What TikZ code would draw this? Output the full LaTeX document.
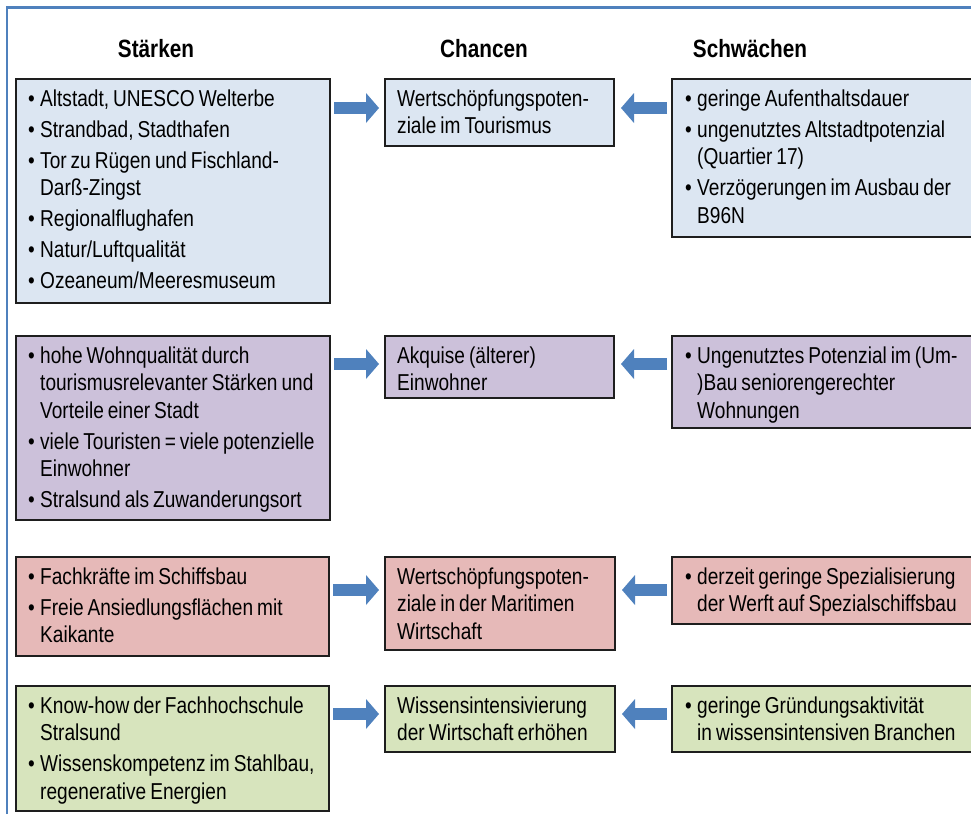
\documentclass[tikz,border=0pt]{standalone}
\usepackage{fontspec}
\setmainfont{Liberation Sans}[FakeStretch=0.83,WordSpace=0.75]
\usetikzlibrary{calc,arrows.meta}
\definecolor{frameblue}{RGB}{79,129,189}
\definecolor{arrowblue}{RGB}{79,129,189}
\definecolor{fillA}{RGB}{220,230,242}
\definecolor{fillB}{RGB}{204,193,218}
\definecolor{fillC}{RGB}{230,185,184}
\definecolor{fillD}{RGB}{215,228,189}
\definecolor{boxline}{RGB}{30,30,30}
\newcommand\bul[1]{\hangindent=12pt\hangafter=1\noindent\makebox[12pt][l]{•}#1\par\vspace{3.5pt}}
\newcommand\cell[2]{\parbox[t]{#1}{\hyphenpenalty=10000\exhyphenpenalty=10000\fontsize{23}{27.5}\selectfont #2}}
\begin{document}
\begin{tikzpicture}[x=1pt,y=-1pt,
  box/.style={draw=boxline, line width=1.4pt, anchor=north west, inner sep=0pt, outer sep=0pt},
  txt/.style={anchor=base west, inner sep=0pt},
  head/.style={font=\fontsize{25}{30}\selectfont\bfseries, anchor=base, inner sep=0pt},
  blockarrow/.style={draw=arrowblue, line width=12pt, -{Triangle[width=30pt,length=13pt,line width=0pt]}},
 ]
\useasboundingbox (0,0) rectangle (971,814);
\draw[frameblue, line width=2.5pt] (7,814) -- (7,7.5) -- (971,7.5);

% headers
\node[head] (hS) at (156,57) {Stärken};
\node[head] (hC) at (484,57) {Chancen};
\node[head] (hW) at (750,57) {Schwächen};

% row 1
\node[box, fill=fillA, minimum width=314pt, minimum height=224pt] (L1) at (16,79) {};
\node[box, fill=fillA, minimum width=229pt, minimum height=67pt] (M1) at (385,79) {};
\node[box, fill=fillA, minimum width=300pt, minimum height=158pt] (R1) at (672,79) {};
\node[txt] (L1t) at ($(L1.north west)+(12,27)$) {\cell{300pt}{%
\bul{Altstadt, UNESCO Welterbe}
\bul{Strandbad, Stadthafen}
\bul{Tor zu Rügen und Fischland-\\Darß-Zingst}
\bul{Regionalflughafen}
\bul{Natur/Luftqualität}
\bul{Ozeaneum/Meeresmuseum}}};
\node[txt] (M1t) at ($(M1.north west)+(12,27)$) {\cell{215pt}{Wertschöpfungspoten-\\ziale im Tourismus}};
\node[txt] (R1t) at ($(R1.north west)+(13,27)$) {\cell{290pt}{%
\bul{geringe Aufenthaltsdauer}
\bul{ungenutztes Altstadtpotenzial\\(Quartier 17)}
\bul{Verzögerungen im Ausbau der\\B96N}}};
\draw[blockarrow] ($(L1.north east)+(4,29)$) -- ($(M1.north west)+(-6,29)$);
\draw[blockarrow] ($(R1.north west)+(-5,29)$) -- ($(M1.north east)+(7,29)$);

% row 2
\node[box, fill=fillB, minimum width=314pt, minimum height=184pt] (L2) at (16,336) {};
\node[box, fill=fillB, minimum width=229pt, minimum height=62pt] (M2) at (385,336) {};
\node[box, fill=fillB, minimum width=300pt, minimum height=92pt] (R2) at (672,336) {};
\node[txt] (L2t) at ($(L2.north west)+(12,27)$) {\cell{300pt}{%
\bul{hohe Wohnqualität durch\\tourismusrelevanter Stärken und\\Vorteile einer Stadt}
\bul{viele Touristen = viele potenzielle\\Einwohner}
\bul{Stralsund als Zuwanderungsort}}};
\node[txt] (M2t) at ($(M2.north west)+(12,27)$) {\cell{215pt}{Akquise (älterer)\\Einwohner}};
\node[txt] (R2t) at ($(R2.north west)+(13,27)$) {\cell{290pt}{%
\bul{Ungenutztes Potenzial im (Um-\\)Bau seniorengerechter\\Wohnungen}}};
\draw[blockarrow] ($(L2.north east)+(4,28)$) -- ($(M2.north west)+(-6,28)$);
\draw[blockarrow] ($(R2.north west)+(-5,28)$) -- ($(M2.north east)+(7,28)$);

% row 3
\node[box, fill=fillC, minimum width=313pt, minimum height=99pt] (L3) at (16,557) {};
\node[box, fill=fillC, minimum width=230pt, minimum height=93pt] (M3) at (385,557) {};
\node[box, fill=fillC, minimum width=300pt, minimum height=67pt] (R3) at (672,557) {};
\node[txt] (L3t) at ($(L3.north west)+(12,27)$) {\cell{300pt}{%
\bul{Fachkräfte im Schiffsbau}
\bul{Freie Ansiedlungsflächen mit\\Kaikante}}};
\node[txt] (M3t) at ($(M3.north west)+(12,27)$) {\cell{215pt}{Wertschöpfungspoten-\\ziale in der Maritimen\\Wirtschaft}};
\node[txt] (R3t) at ($(R3.north west)+(13,27)$) {\cell{290pt}{%
\bul{derzeit geringe Spezialisierung\\der Werft auf Spezialschiffsbau}}};
\draw[blockarrow] ($(L3.north east)+(4,33)$) -- ($(M3.north west)+(-6,33)$);
\draw[blockarrow] ($(R3.north west)+(-5,33)$) -- ($(M3.north east)+(7,33)$);

% row 4
\node[box, fill=fillD, minimum width=313pt, minimum height=125pt] (L4) at (16,686) {};
\node[box, fill=fillD, minimum width=230pt, minimum height=66pt] (M4) at (385,686) {};
\node[box, fill=fillD, minimum width=300pt, minimum height=66pt] (R4) at (672,686) {};
\node[txt] (L4t) at ($(L4.north west)+(12,27)$) {\cell{300pt}{%
\bul{Know-how der Fachhochschule\\Stralsund}
\bul{Wissenskompetenz im Stahlbau,\\regenerative Energien}}};
\node[txt] (M4t) at ($(M4.north west)+(12,27)$) {\cell{215pt}{Wissensintensivierung\\der Wirtschaft erhöhen}};
\node[txt] (R4t) at ($(R4.north west)+(13,27)$) {\cell{290pt}{%
\bul{geringe Gründungsaktivität\\in wissensintensiven Branchen}}};
\draw[blockarrow] ($(L4.north east)+(4,28)$) -- ($(M4.north west)+(-6,28)$);
\draw[blockarrow] ($(R4.north west)+(-5,28)$) -- ($(M4.north east)+(7,28)$);
\end{tikzpicture}
\end{document}
